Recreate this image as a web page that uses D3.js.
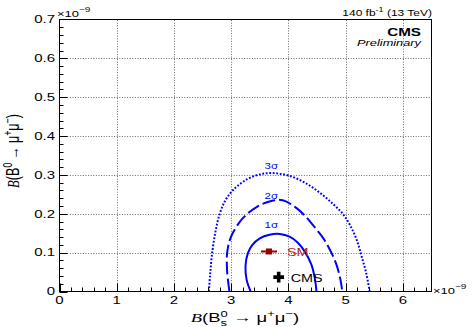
<!DOCTYPE html>
<html>
<head>
<meta charset="utf-8">
<script src="https://cdn.jsdelivr.net/npm/d3@7"></script>
<style>
  body { margin: 0; background: #fff; }
  svg { display: block; }
</style>
</head>
<body>
<script>
// ---- data (branching fractions in units of 1e-9) ----
const xMajorTicks = [0, 1, 2, 3, 4, 5, 6];
const xTickLabels = ["0", "1", "2", "3", "4", "5", "6"];
const yMajorTicks = [0, 0.1, 0.2, 0.3, 0.4, 0.5, 0.6, 0.7];
const yTickLabels = ["0", "0.1", "0.2", "0.3", "0.4", "0.5", "0.6", "0.7"];

const contourNames = ["1σ", "2σ", "3σ"];
// contour label anchors (B_s, B0) placed just above each contour's crest
const contourLabelPos = [[3.70, 0.163], [3.70, 0.238], [3.70, 0.314]];

const contour1s = [[3.34, 0], [3.27, 0.03], [3.25, 0.065], [3.29, 0.098], [3.37, 0.12], [3.50, 0.137],
  [3.67, 0.146], [3.85, 0.148], [4.02, 0.141], [4.16, 0.126], [4.28, 0.104], [4.40, 0.07],
  [4.46, 0.035], [4.49, 0]];
const contour2s = [[2.97, 0], [2.93, 0.05], [2.93, 0.10], [3.0, 0.142], [3.2, 0.188], [3.45, 0.218],
  [3.7, 0.233], [3.9, 0.235], [4.12, 0.217], [4.30, 0.193], [4.44, 0.169], [4.58, 0.143],
  [4.68, 0.12], [4.83, 0.073], [4.91, 0.03], [4.94, 0]];
const contour3s = [[2.61, 0], [2.63, 0.04], [2.66, 0.09], [2.72, 0.15], [2.80, 0.2], [2.9, 0.235],
  [3.04, 0.262], [3.28, 0.289], [3.55, 0.303], [3.8, 0.304], [4.05, 0.296], [4.3, 0.279],
  [4.56, 0.253], [4.78, 0.225], [4.95, 0.2], [5.09, 0.167], [5.2, 0.13], [5.28, 0.09],
  [5.36, 0.047], [5.42, 0]];

const smValue = [3.66, 0.103];
const smError = [0.14, 0.005];
const cmsValue = [3.83, 0.037];

// ---- layout ----
const W = 472, H = 327;
const K = 0.72;                       // vertical text compression
const fontSans = "'Liberation Sans', Arial, Helvetica, sans-serif";
const fontSerif = "'Liberation Serif', 'Times New Roman', serif";
const blue = "#0000ff";

const x = d3.scaleLinear().domain([0, 6.5]).range([59.5, 431.5]);
const y = d3.scaleLinear().domain([0, 0.7]).range([291.5, 19.5]);

const svg = d3.select("body").append("svg").attr("width", W).attr("height", H);

function label(parent, px, py, size, opts = {}) {
  const t = parent.append("text")
    .attr("transform", `translate(${px},${py}) scale(1,${K})` + (opts.rotate ? ` rotate(${opts.rotate})` : ""))
    .attr("font-family", opts.family || fontSans)
    .attr("font-size", size)
    .attr("fill", opts.fill || "#000")
    .attr("text-anchor", opts.anchor || "start");
  if (opts.weight) t.attr("font-weight", opts.weight);
  if (opts.style) t.attr("font-style", opts.style);
  if (opts.text !== undefined) t.text(opts.text);
  return t;
}

// ---- grid ----
const grid = svg.append("g").attr("stroke", "#6a6a6a").attr("stroke-width", 1)
  .attr("stroke-dasharray", "1,1.6");
grid.selectAll("line.gx").data(xMajorTicks.filter(v => v > 0)).join("line")
  .attr("x1", d => Math.round(x(d)) + 0.5).attr("x2", d => Math.round(x(d)) + 0.5)
  .attr("y1", y(0)).attr("y2", y(0.7));
grid.selectAll("line.gy").data(yMajorTicks.filter(v => v > 0 && v < 0.7)).join("line")
  .attr("y1", d => Math.round(y(d)) + 0.5).attr("y2", d => Math.round(y(d)) + 0.5)
  .attr("x1", x(0)).attr("x2", x(6.5));

// ---- contours ----
svg.append("clipPath").attr("id", "plotclip").append("rect")
  .attr("x", x(0)).attr("y", y(0.7)).attr("width", x(6.5) - x(0)).attr("height", y(0) - y(0.7));
const line = d3.line().x(d => x(d[0])).y(d => y(d[1])).curve(d3.curveCatmullRom.alpha(0.5));
const cg = svg.append("g").attr("clip-path", "url(#plotclip)").attr("fill", "none").attr("stroke", blue);
cg.append("path").attr("d", line(contour1s)).attr("stroke-width", 2);
cg.append("path").attr("d", line(contour2s)).attr("stroke-width", 2).attr("stroke-dasharray", "13,4");
cg.append("path").attr("d", line(contour3s)).attr("stroke-width", 2).attr("stroke-dasharray", "1.8,1.7");

contourNames.forEach((n, i) => {
  label(svg, x(contourLabelPos[i][0]), y(contourLabelPos[i][1]), 11.5,
    { anchor: "middle", fill: blue, text: n });
});

// ---- SM point with error bar ----
svg.append("line").attr("stroke", "#990000").attr("stroke-width", 2)
  .attr("x1", x(smValue[0] - smError[0])).attr("x2", x(smValue[0] + smError[0]))
  .attr("y1", y(smValue[1])).attr("y2", y(smValue[1]));
svg.append("line").attr("stroke", "#990000").attr("stroke-width", 2)
  .attr("x1", x(smValue[0])).attr("x2", x(smValue[0]))
  .attr("y1", y(smValue[1] - smError[1])).attr("y2", y(smValue[1] + smError[1]));
svg.append("rect").attr("fill", "#990000")
  .attr("x", x(smValue[0]) - 3).attr("y", y(smValue[1]) - 3).attr("width", 6).attr("height", 6);
label(svg, x(smValue[0]) + 18, y(smValue[1]) + 5, 14.4, { fill: "#b01c1c", text: "SM" });

// ---- CMS best fit ----
svg.append("path").attr("fill", "#000")
  .attr("d", d3.symbol().type(d3.symbolCross).size(64)())
  .attr("transform", `translate(${x(cmsValue[0])},${y(cmsValue[1])})`);
label(svg, x(cmsValue[0]) + 12, y(cmsValue[1]) + 5, 14.4, { text: "CMS" });

// ---- frame ----
svg.append("rect").attr("fill", "none").attr("stroke", "#000").attr("stroke-width", 1)
  .attr("x", x(0)).attr("y", y(0.7)).attr("width", x(6.5) - x(0)).attr("height", y(0) - y(0.7));

// ---- ticks (inside the frame) ----
const ticks = svg.append("g").attr("stroke", "#000").attr("stroke-width", 1);
const xMinor = d3.range(0, 6.5001, 0.2);
ticks.selectAll("line.tx").data(xMinor).join("line")
  .attr("x1", d => Math.round(x(d)) + 0.5).attr("x2", d => Math.round(x(d)) + 0.5)
  .attr("y1", y(0)).attr("y2", d => y(0) - (Math.abs(d - Math.round(d)) < 1e-6 ? 8 : 4));
const yMinor = d3.range(0, 0.7001, 0.02);
ticks.selectAll("line.ty").data(yMinor).join("line")
  .attr("y1", d => Math.round(y(d)) + 0.5).attr("y2", d => Math.round(y(d)) + 0.5)
  .attr("x1", x(0)).attr("x2", d => x(0) + (Math.abs(d * 10 - Math.round(d * 10)) < 1e-6 ? 8 : 4));

// ---- tick labels ----
xMajorTicks.forEach((v, i) => label(svg, x(v), 304, 15, { anchor: "middle", text: xTickLabels[i] }));
yMajorTicks.forEach((v, i) => label(svg, 55, y(v) + 3.8, 15, { anchor: "end", text: yTickLabels[i] }));

// ---- exponent markers ----
function times10(px, py) {
  const t = label(svg, px, py, 13);
  t.append("tspan").text("×10");
  t.append("tspan").attr("font-size", 10).attr("dy", -7).text("−9");
}
times10(57, 17);
times10(433, 294);

// ---- axis titles ----
function branchTitle(t, withSub) {
  t.append("tspan").attr("font-family", fontSerif).attr("font-style", "italic").text("B");
  t.append("tspan").text("(B");
  if (withSub) {
    const s = t.append("tspan").attr("font-size", "0.7em").attr("dy", 5).text("s");
    const back = -s.node().getComputedTextLength();
    t.append("tspan").attr("font-size", "0.7em").attr("dx", back).attr("dy", -12).text("0");
    t.append("tspan").attr("dy", 7).text(" → μ");
  } else {
    t.append("tspan").attr("font-size", "0.7em").attr("dy", -7).text("0");
    t.append("tspan").attr("dy", 7).text(" → μ");
  }
  t.append("tspan").attr("font-size", "0.7em").attr("dy", -7).text("+");
  t.append("tspan").attr("dy", 7).text("μ");
  t.append("tspan").attr("font-size", "0.7em").attr("dy", -7).text("−");
  t.append("tspan").attr("dy", 7).text(")");
}
branchTitle(label(svg, 245, 322, 18.5, { anchor: "middle" }), true);
branchTitle(label(svg, 19, 151, 17.5, { anchor: "middle", rotate: -90 }), false);

// ---- header ----
const lumi = label(svg, 432, 16, 12, { anchor: "end" });
lumi.append("tspan").text("140 fb");
lumi.append("tspan").attr("font-size", 9).attr("dy", -6).text("-1");
lumi.append("tspan").attr("dy", 6).text(" (13 TeV)");
label(svg, 421, 35.5, 15.2, { anchor: "end", weight: "bold", text: "CMS" });
label(svg, 421, 46, 12.8, { anchor: "end", style: "italic", text: "Preliminary" });
</script>
</body>
</html>
